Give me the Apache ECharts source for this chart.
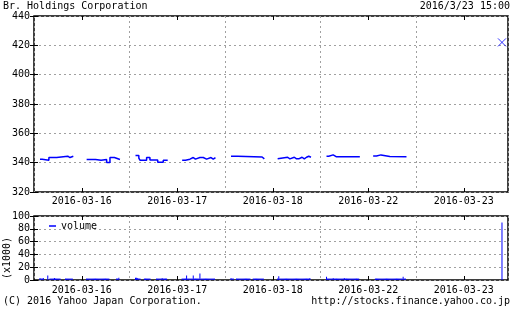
<!DOCTYPE html>
<html>
<head>
<meta charset="utf-8">
<script src="https://cdn.jsdelivr.net/npm/echarts@6/dist/echarts.min.js"></script>
<style>
html, body { margin: 0; padding: 0; background: #fff; }
#chart { width: 512px; height: 310px; }
</style>
</head>
<body>
<div id="chart"></div>
<script>
var FONT = '"DejaVu Sans Mono", "Liberation Mono", monospace';

var dates = ['2016-03-16', '2016-03-17', '2016-03-18', '2016-03-22', '2016-03-23'];
var priceTicks = [320, 340, 360, 380, 400, 420, 440];
var volumeTicks = [0, 20, 40, 60, 80, 100];

// price steps [time, price], null = lunch break
var price0316 = [['09:00', 342.4], ['09:10', 341.7], ['09:40', 343.5], ['10:15', 344.4], ['11:05', 343.5], ['11:15', 344.4], ['11:30', 344.4], null,
                 ['12:30', 342.2], ['13:10', 341.7], ['13:35', 342.2], ['14:00', 340.1], ['14:15', 343.5], ['14:35', 342.2], ['15:00', 342.2]];
var price0317 = [['09:00', 344.9], ['09:15', 343.1], ['09:20', 341.7], ['09:50', 343.5], ['10:05', 341.9], ['10:40', 340.3], ['11:05', 341.7], ['11:25', 341.7], null,
                 ['12:30', 341.7], ['12:45', 342.4], ['13:05', 343.5], ['13:20', 342.4], ['13:30', 343.5], ['13:50', 344.6], ['13:55', 343.5], ['14:05', 342.4], ['14:20', 343.5], ['14:40', 342.4], ['14:50', 343.5], ['15:00', 343.5]];
var price0318 = [['09:00', 344.4], ['09:30', 343.9], ['11:20', 342.6], ['11:30', 342.6], null,
                 ['12:30', 342.6], ['12:35', 343.7], ['13:15', 342.6], ['13:25', 343.7], ['13:45', 342.6], ['13:55', 341.9], ['14:00', 342.6], ['14:05', 343.7], ['14:20', 342.6], ['14:30', 343.7], ['14:40', 344.4], ['14:50', 343.7], ['15:00', 343.7]];
var price0322 = [['09:00', 344.4], ['09:10', 345.3], ['09:30', 344.0], ['09:45', 343.5], ['09:50', 344.0], ['10:15', 343.5], ['10:20', 344.0], ['10:45', 343.5], ['10:50', 344.0], ['11:15', 343.5], ['11:20', 344.0], ['11:30', 344.0], null,
                 ['12:30', 344.6], ['12:45', 345.3], ['13:05', 344.2], ['13:45', 344.6], ['13:50', 344.0], ['15:00', 344.0]];
var lastPrice = ['15:00', 422];

// volume (x1000) in 5 minute slots, am from 09:00, pm from 12:30
var vol0316am = [3, 2.5, 2.5, 3, 0, 0, 0, 7, 0, 2.5, 2.5, 2.5, 2.5, 3, 2.5, 2.5, 2.5, 2.5, 2.5, 0, 0, 0, 0, 2.5, 2.5, 2.5, 2.5, 2.5, 2.5, 2.5];
var vol0316pm = [2.5, 2.5, 2.5, 2.5, 2.5, 2.5, 2.5, 2.5, 2.5, 2.5, 2.5, 2.5, 2.5, 2.5, 2.5, 2.5, 2.5, 2.5, 2.5, 2.5, 2.5, 0, 0, 0, 0, 0, 0, 2.5, 2.5, 3.5];
var vol0317am = [3.5, 3.5, 3, 2.5, 2.5, 0, 0, 0, 2.5, 2.5, 2.5, 2.5, 2.5, 2.5, 0, 0, 0, 0, 0, 2.5, 2.5, 2.5, 2.5, 2.5, 3, 2.5, 2.5, 2.5, 2.5, 0];
var vol0317pm = [2.5, 2.5, 2.5, 2.5, 7, 2.5, 2.5, 2.5, 2.5, 2.5, 7, 2.5, 2.5, 2.5, 2.5, 2.5, 10, 2.5, 2.5, 2.5, 2.5, 2.5, 2.5, 2.5, 2.5, 2.5, 2.5, 2.5, 2.5, 2.5];
var vol0318am = [3, 2.5, 2.5, 0, 0, 2.5, 2.5, 2.5, 2.5, 2.5, 2.5, 2.5, 2.5, 2.5, 2.5, 2.5, 2.5, 2.5, 0, 0, 2.5, 2.5, 2.5, 2.5, 2.5, 2.5, 2.5, 2.5, 2.5, 2.5];
var vol0318pm = [2.5, 6, 2.5, 2.5, 2.5, 2.5, 2.5, 2.5, 2.5, 2.5, 2.5, 2.5, 2.5, 2.5, 2.5, 2.5, 2.5, 2.5, 2.5, 2.5, 2.5, 2.5, 2.5, 2.5, 2.5, 2.5, 2.5, 2.5, 2.5, 3];
var vol0322am = [5, 2.5, 2.5, 2.5, 2.5, 2.5, 3, 2.5, 2.5, 2.5, 2.5, 2.5, 2.5, 2.5, 2.5, 2.5, 3, 2.5, 2.5, 2.5, 2.5, 2.5, 2.5, 2.5, 2.5, 2.5, 2.5, 2.5, 2.5, 2.5];
var vol0322pm = [0, 0, 2.5, 2.5, 2.5, 2.5, 2.5, 2.5, 2.5, 2.5, 2.5, 2.5, 2.5, 2.5, 2.5, 2.5, 2.5, 2.5, 2.5, 2.5, 2.5, 2.5, 2.5, 2.5, 2.5, 2.5, 2.5, 5, 2.5, 2.5];
var lastVolume = ['15:00', 90];

// each day slot on the x axis runs from 08:33 for 430 minutes
var DAY_START = 8 * 60 + 33;
var DAY_LEN = 430;
var XMAX = 4.963;

function xOf(day, t) {
    var p = t.split(':');
    return day + (p[0] * 60 + (+p[1]) - DAY_START) / DAY_LEN;
}

var lineData = [];
[price0316, price0317, price0318, price0322].forEach(function (day, d) {
    var lastX = d;
    day.forEach(function (pt) {
        if (pt === null) {
            lineData.push([lastX, '-']);
            return;
        }
        lastX = xOf(d, pt[0]);
        lineData.push([lastX, pt[1]]);
    });
    lineData.push([lastX, '-']);
});

var volData = [];
[[vol0316am, vol0316pm], [vol0317am, vol0317pm], [vol0318am, vol0318pm], [vol0322am, vol0322pm]].forEach(function (s, d) {
    [['09:00', s[0]], ['12:30', s[1]]].forEach(function (sess) {
        var x0 = xOf(d, sess[0]);
        sess[1].forEach(function (v, i) {
            if (v > 0) volData.push([x0 + i * 5 / DAY_LEN, v]);
        });
    });
});
volData.push([xOf(4, lastVolume[0]), lastVolume[1]]);

var centers = dates.map(function (d, i) { return i + 0.5; });
var grey = { color: '#a0a0a0', type: [2, 3], width: 1 };
var tick = { show: true, inside: true, length: 4, lineStyle: { color: '#000', width: 1 } };
var txt = { color: '#000', fontFamily: FONT, fontSize: 10 };

function xAxes(gi, margin) {
    return [
        { gridIndex: gi, type: 'value', min: 0, max: XMAX, interval: 1,
          axisLine: { show: false }, axisTick: { show: false }, axisLabel: { show: false },
          splitLine: { show: true, lineStyle: grey } },
        { gridIndex: gi, type: 'value', position: 'bottom', min: 0, max: XMAX,
          axisLine: { show: false }, splitLine: { show: false },
          axisTick: Object.assign({ customValues: centers }, tick),
          axisLabel: Object.assign({ customValues: centers, margin: margin,
              formatter: function (v) { return dates[Math.floor(v)]; } }, txt) },
        { gridIndex: gi, type: 'value', position: 'top', min: 0, max: XMAX,
          axisLine: { show: false }, splitLine: { show: false }, axisLabel: { show: false },
          axisTick: Object.assign({ customValues: centers }, tick) }
    ];
}

function yAxes(gi, ticks) {
    var lo = ticks[0], hi = ticks[ticks.length - 1], step = ticks[1] - ticks[0];
    return [
        { gridIndex: gi, type: 'value', position: 'left', min: lo, max: hi, interval: step,
          axisLine: { show: false }, axisTick: tick,
          axisLabel: Object.assign({ margin: 4 }, txt),
          splitLine: { show: true, lineStyle: grey } },
        { gridIndex: gi, type: 'value', position: 'right', min: lo, max: hi, interval: step,
          axisLine: { show: false }, axisTick: tick, axisLabel: { show: false }, splitLine: { show: false } }
    ];
}

var chart = echarts.init(document.getElementById('chart'));
chart.setOption({
    animation: false,
    backgroundColor: '#fff',
    grid: [
        { left: 34, top: 16, width: 474, height: 176, show: true, borderColor: '#000', borderWidth: 1.5, backgroundColor: 'transparent' },
        { left: 34, top: 216, width: 474, height: 64, show: true, borderColor: '#000', borderWidth: 1.5, backgroundColor: 'transparent' }
    ],
    xAxis: xAxes(0, 4).concat(xAxes(1, 5)),
    yAxis: yAxes(0, priceTicks).concat(yAxes(1, volumeTicks)),
    legend: {
        data: [{ name: 'volume', icon: 'rect' }],
        left: 44, top: 216, itemWidth: 7, itemHeight: 1.5, itemGap: 5,
        textStyle: txt
    },
    graphic: [
        { type: 'text', x: 3, y: 6, style: { text: 'Br. Holdings Corporation', font: '10px ' + FONT, fill: '#000', textAlign: 'left', textVerticalAlign: 'middle' } },
        { type: 'text', x: 510, y: 6, style: { text: '2016/3/23 15:00', font: '10px ' + FONT, fill: '#000', textAlign: 'right', textVerticalAlign: 'middle' } },
        { type: 'text', x: 3, y: 301, style: { text: '(C) 2016 Yahoo Japan Corporation.', font: '10px ' + FONT, fill: '#000', textAlign: 'left', textVerticalAlign: 'middle' } },
        { type: 'text', x: 510, y: 301, style: { text: 'http://stocks.finance.yahoo.co.jp', font: '10px ' + FONT, fill: '#000', textAlign: 'right', textVerticalAlign: 'middle' } },
        { type: 'text', x: 7, y: 258, rotation: Math.PI / 2, style: { text: '(x1000)', font: '10px ' + FONT, fill: '#000', textAlign: 'center', textVerticalAlign: 'middle' } }
    ],
    series: [
        { name: 'price', type: 'line', step: 'end', xAxisIndex: 0, yAxisIndex: 0,
          data: lineData, showSymbol: false, connectNulls: false,
          lineStyle: { color: '#0000ff', width: 1.5 }, itemStyle: { color: '#0000ff' } },
        { name: 'last', type: 'scatter', xAxisIndex: 0, yAxisIndex: 0,
          data: [[xOf(4, lastPrice[0]), lastPrice[1]]],
          symbol: 'path://M0,0L10,10M0,10L10,0', symbolSize: 8,
          itemStyle: { color: 'rgba(0,0,0,0)', borderColor: '#0000ff', borderWidth: 1 } },
        { name: 'volume', type: 'bar', xAxisIndex: 3, yAxisIndex: 2,
          data: volData, barWidth: 1, itemStyle: { color: '#0000ff' } }
    ]
});
</script>
</body>
</html>
